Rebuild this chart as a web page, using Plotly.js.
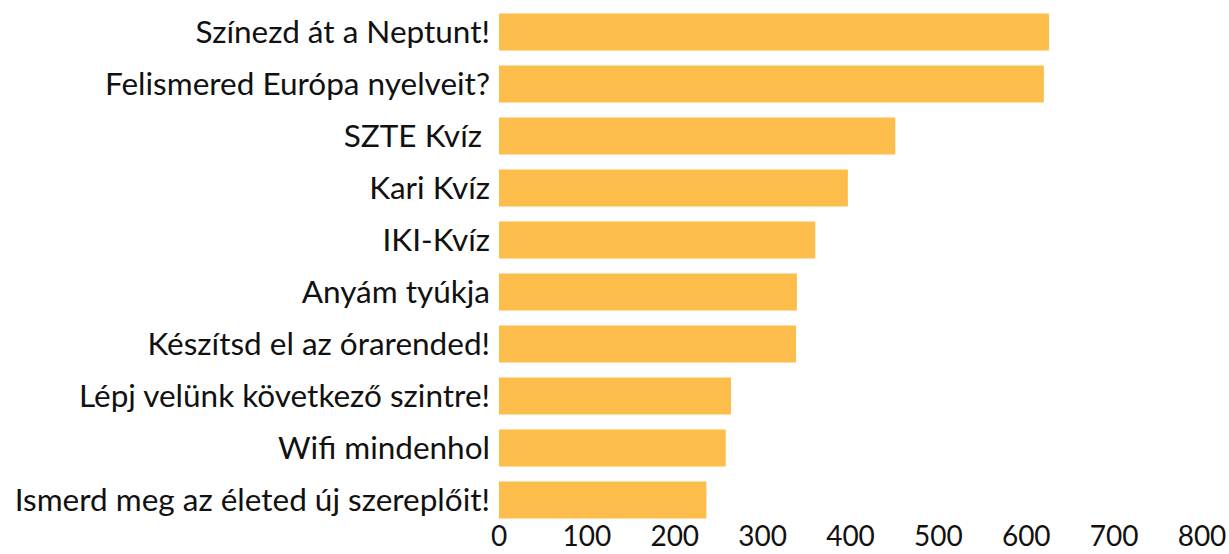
<!DOCTYPE html>
<html>
<head>
<meta charset="utf-8">
<script src="https://cdn.plot.ly/plotly-3.0.1.min.js"></script>
<style>html,body{margin:0;padding:0;background:#fff;}#chart{width:1229px;height:554px;}</style>
</head>
<body>
<div id="chart"></div>
<script>
const categories = [
  "Színezd át a Neptunt!",
  "Felismered Európa nyelveit?",
  "SZTE Kvíz\u00a0",
  "Kari Kvíz",
  "IKI-Kvíz",
  "Anyám tyúkja",
  "Készítsd el az órarended!",
  "Lépj velünk következő szintre!",
  "Wifi mindenhol",
  "Ismerd meg az életed új szereplőit!"
];
const values = [626, 620, 451, 397, 360, 339, 338, 264, 258, 236];
const tickValues = [0, 100, 200, 300, 400, 500, 600, 700, 800];

const fontFamily = "Lato, 'Liberation Sans', sans-serif";

Plotly.newPlot('chart', [{
  type: 'bar',
  orientation: 'h',
  y: categories,
  x: values,
  marker: {color: 'rgb(253,189,75)'},
  hoverinfo: 'none'
}], {
  width: 1229,
  height: 554,
  margin: {l: 499, r: 27, t: 6, b: 28, pad: 0},
  paper_bgcolor: '#ffffff',
  plot_bgcolor: '#ffffff',
  bargap: 0.29,
  showlegend: false,
  font: {family: fontFamily, color: '#111111', size: 30},
  xaxis: {
    range: [0, 800],
    tickvals: tickValues,
    ticktext: tickValues.map(String),
    showgrid: false,
    zeroline: false,
    showline: false,
    ticks: '',
    ticklabelstandoff: -9,
    tickfont: {family: fontFamily, size: 28, color: '#111111'},
    fixedrange: true
  },
  yaxis: {
    autorange: 'reversed',
    type: 'category',
    showgrid: false,
    zeroline: false,
    showline: false,
    ticks: '',
    ticklabelstandoff: 8,
    tickfont: {family: fontFamily, size: 31.5, color: '#111111'},
    fixedrange: true
  }
}, {staticPlot: true, displayModeBar: false});
</script>
</body>
</html>
